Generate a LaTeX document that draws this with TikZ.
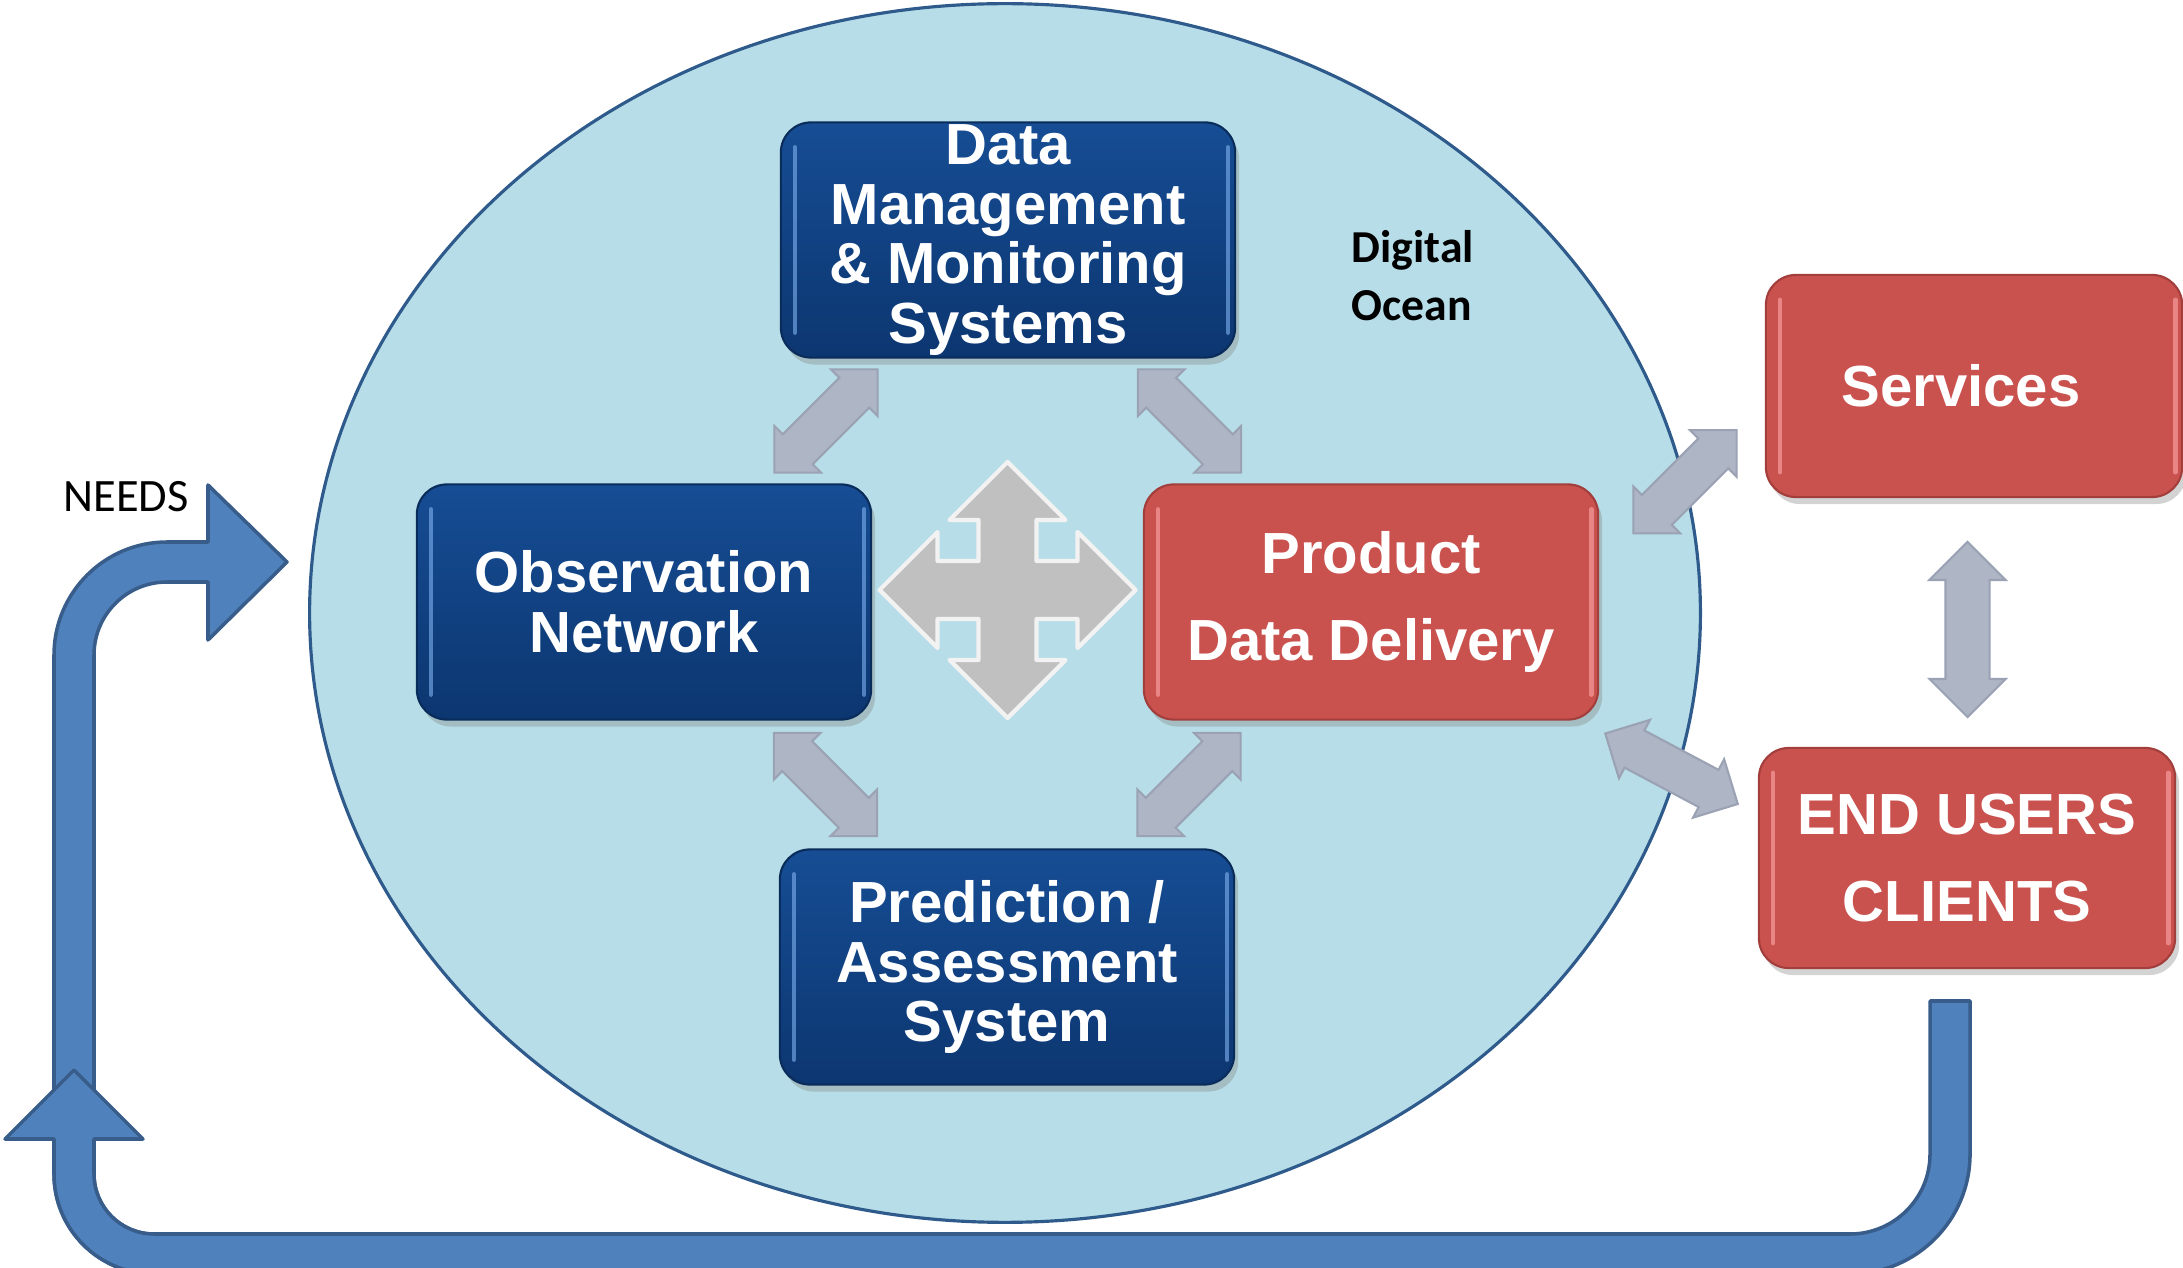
\documentclass[tikz,border=0pt]{standalone}
\usepackage{fontspec}
\usepackage{tikz}
\usetikzlibrary{calc}
\usetikzlibrary{shapes.geometric}
\usetikzlibrary{shapes.arrows}
\usetikzlibrary{shadows}
\newfontfamily\boxfont{Liberation Sans}
\newfontfamily\labfont{Carlito}
\definecolor{oceanfill}{HTML}{B7DEE8}
\definecolor{oceanline}{HTML}{2F5A8C}
\definecolor{navytop}{HTML}{164D94}
\definecolor{navybot}{HTML}{0C3670}
\definecolor{navyline}{HTML}{0A2C5A}
\definecolor{navyshine}{HTML}{7FB2F0}
\definecolor{brick}{HTML}{C9524F}
\definecolor{brickline}{HTML}{A23E3B}
\definecolor{brickshine}{HTML}{FFA8A8}
\definecolor{linkgray}{HTML}{AEB5C5}
\definecolor{linkedge}{HTML}{9AA2B4}
\definecolor{hubgray}{HTML}{C0C0C0}
\definecolor{hubedge}{HTML}{F2F2F2}
\definecolor{loopblue}{HTML}{4F81BD}
\definecolor{loopline}{HTML}{385D8A}

\begin{document}
\begin{tikzpicture}[x=0.01cm, y=-0.01cm]

\tikzstyle{panel}=[rectangle, rounded corners=3mm, minimum width=45.4mm, minimum height=23.5mm, inner sep=0pt, align=center, text=white, font=\boxfont\bfseries\fontsize{16.5}{17}\selectfont, line width=0.6pt, drop shadow={shadow xshift=0.4mm, shadow yshift=-0.7mm, opacity=0.35}]
\tikzstyle{bluebox}=[panel, draw=navyline, top color=navytop, bottom color=navybot]
\tikzstyle{redbox}=[panel, draw=brickline, fill=brick]
\tikzstyle{shine}=[line width=1.3pt, line cap=round, opacity=0.6]
\tikzstyle{link}=[double arrow, double arrow head extend=1.2mm, double arrow tip angle=90, inner sep=2mm, minimum height=14.6mm, fill=linkgray, draw=linkedge, line width=0.6pt]
\tikzstyle{hubarrow}=[fill=hubgray, draw=hubedge, line width=1.2pt, line join=round]
\tikzstyle{feedback}=[fill=loopblue, draw=loopline, line width=1pt, line join=round]

\useasboundingbox (0,0) rectangle (2183,1268);
\clip (0,0) rectangle (2183,1268);

\node[ellipse, draw=oceanline, fill=oceanfill, line width=0.9pt, minimum width=139mm, minimum height=121.8mm, inner sep=0pt] at (1005,613) (Ocean) {};

% needs arrow, then the return arrow from the end users
\draw[feedback] (365,1234) -- (154,1234) arc[start angle=90, end angle=180, radius=60] -- (94,655) arc[start angle=180, end angle=270, radius=73] -- (208,582) -- (208,640) -- (287,562) -- (208,485) -- (208,542) -- (167,542) arc[start angle=270, end angle=180, radius=113] -- (54,1174) arc[start angle=180, end angle=90, radius=100] -- (365,1274) -- cycle;
\draw[feedback] (1930,1001) -- (1930,1154) arc[start angle=0, end angle=90, radius=80] -- (154,1234) arc[start angle=90, end angle=180, radius=60] -- (94,1139) -- (143,1139) -- (74,1070) -- (5,1139) -- (54,1139) -- (54,1174) arc[start angle=180, end angle=90, radius=100] -- (1850,1274) arc[start angle=90, end angle=0, radius=120] -- (1970,1001) -- cycle;

\node[anchor=base west, inner sep=0pt, font=\labfont\fontsize{13.2}{16}\selectfont] at (63,512) (Needs) {NEEDS};
\node[anchor=north west, inner sep=0pt, align=left, font=\labfont\bfseries\fontsize{13}{16.5}\selectfont] at (1351,230) (DigOc) {Digital\\Ocean};

\node[bluebox] at (1008,240) (DMS) {Data\\Management\\\& Monitoring\\Systems};
\node[bluebox] at (644,602) (ObsNet) {Observation\\Network};
\node[redbox, font=\boxfont\bfseries\fontsize{16.5}{24.5}\selectfont] at (1371,602) (ProdDD) {Product\\Data Delivery};
\node[bluebox] at (1007,967) (PredAS) {Prediction /\\Assessment\\System};
\node[redbox, minimum width=41.6mm, minimum height=22.2mm] at (1974,386) (Serv) {Services\hspace{2.6mm}};
\node[redbox, minimum width=41.6mm, minimum height=22.0mm, font=\boxfont\bfseries\fontsize{16.5}{24.5}\selectfont] at (1967,858) (EndUsers) {END USERS\\CLIENTS};

% glossy edges of the boxes
\draw[shine, draw=navyshine] ([shift={(15,26)}]DMS.north west) -- ([shift={(15,-26)}]DMS.south west) ([shift={(-8,26)}]DMS.north east) -- ([shift={(-8,-26)}]DMS.south east);
\draw[shine, draw=navyshine] ([shift={(15,26)}]ObsNet.north west) -- ([shift={(15,-26)}]ObsNet.south west) ([shift={(-8,26)}]ObsNet.north east) -- ([shift={(-8,-26)}]ObsNet.south east);
\draw[shine, draw=navyshine] ([shift={(15,26)}]PredAS.north west) -- ([shift={(15,-26)}]PredAS.south west) ([shift={(-8,26)}]PredAS.north east) -- ([shift={(-8,-26)}]PredAS.south east);
\draw[shine, draw=brickshine] ([shift={(15,26)}]ProdDD.north west) -- ([shift={(15,-26)}]ProdDD.south west) ([shift={(-8,26)}]ProdDD.north east) -- ([shift={(-8,-26)}]ProdDD.south east);
\draw[shine, draw=brickshine] ([shift={(15,26)}]Serv.north west) -- ([shift={(15,-26)}]Serv.south west) ([shift={(-8,26)}]Serv.north east) -- ([shift={(-8,-26)}]Serv.south east);
\draw[shine, draw=brickshine] ([shift={(15,26)}]EndUsers.north west) -- ([shift={(15,-26)}]EndUsers.south west) ([shift={(-8,26)}]EndUsers.north east) -- ([shift={(-8,-26)}]EndUsers.south east);

% four way arrow in the middle
\coordinate (Hub) at ($(ObsNet.east)!0.5!(ProdDD.west)+(0,-12)$);
\draw[hubarrow, shift={(Hub)}] (0,-128) -- (58,-70) -- (29,-70) -- (29,-29) -- (70,-29) -- (70,-58) -- (128,0) -- (70,58) -- (70,29) -- (29,29) -- (29,70) -- (58,70) -- (0,128) -- (-58,70) -- (-29,70) -- (-29,29) -- (-70,29) -- (-70,58) -- (-128,0) -- (-70,-58) -- (-70,-29) -- (-29,-29) -- (-29,-70) -- (-58,-70) -- cycle;

\node[link, rotate=45] at ($(DMS.south west)!0.5!(ObsNet.north east)$) (LkA) {};
\node[link, rotate=-45] at ($(DMS.south east)!0.5!(ProdDD.north west)$) (LkB) {};
\node[link, rotate=-45] at ($(ObsNet.south east)!0.5!(PredAS.north west)$) (LkC) {};
\node[link, rotate=45] at ($(ProdDD.south west)!0.5!(PredAS.north east)$) (LkD) {};
\node[link, rotate=45] at ($(ProdDD.north east)!0.5!(Serv.south west)+(3,-9)$) (LkE) {};
\node[link, rotate=-28, minimum height=15mm] at ($(ProdDD.south east)!0.5!(EndUsers.north west)+(-7,35)$) (LkF) {};
\node[link, rotate=90, minimum height=17.5mm, inner sep=2.1mm, double arrow head extend=1.6mm] at ($(Serv.south)!0.5!(EndUsers.north)+(-3,7)$) (LkG) {};

\end{tikzpicture}
\end{document}
